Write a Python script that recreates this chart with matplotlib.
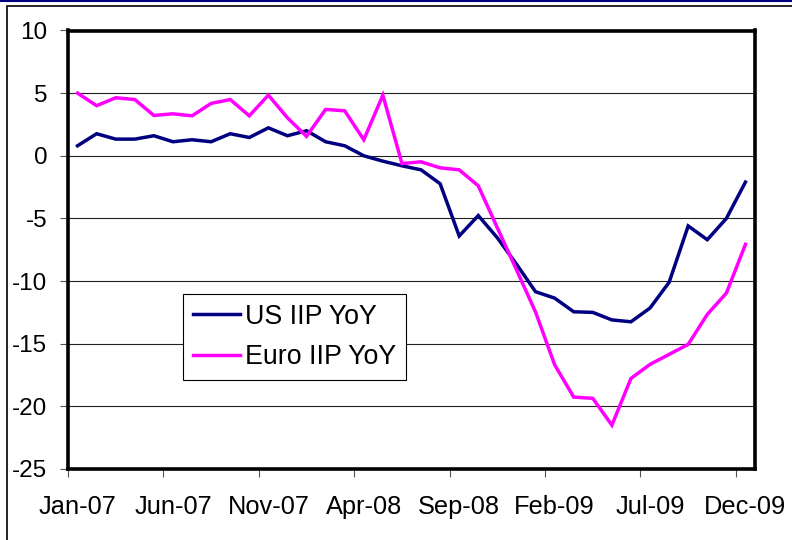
import matplotlib.pyplot as plt
from matplotlib.patches import Rectangle
from matplotlib.lines import Line2D

plt.rcParams['font.family'] = ['Liberation Sans', 'DejaVu Sans']
plt.rcParams['axes.unicode_minus'] = False

# monthly, Jan-07 .. Dec-09
months = ['Jan-07', 'Feb-07', 'Mar-07', 'Apr-07', 'May-07', 'Jun-07', 'Jul-07', 'Aug-07', 'Sep-07',
          'Oct-07', 'Nov-07', 'Dec-07', 'Jan-08', 'Feb-08', 'Mar-08', 'Apr-08', 'May-08', 'Jun-08',
          'Jul-08', 'Aug-08', 'Sep-08', 'Oct-08', 'Nov-08', 'Dec-08', 'Jan-09', 'Feb-09', 'Mar-09',
          'Apr-09', 'May-09', 'Jun-09', 'Jul-09', 'Aug-09', 'Sep-09', 'Oct-09', 'Nov-09', 'Dec-09']

us_iip = [0.8, 1.76, 1.33, 1.33, 1.6, 1.12, 1.28, 1.12, 1.76, 1.46, 2.23, 1.6,
          2.0, 1.12, 0.8, 0.0, -0.43, -0.8, -1.12, -2.23, -6.4, -4.77, -6.55, -8.65,
          -10.85, -11.36, -12.45, -12.5, -13.1, -13.25, -12.15, -10.1, -5.6, -6.7, -5.0, -2.1]

euro_iip = [5.0, 4.0, 4.63, 4.49, 3.22, 3.35, 3.19, 4.18, 4.49, 3.19, 4.84, 3.03,
            1.55, 3.7, 3.59, 1.28, 4.84, -0.62, -0.48, -0.96, -1.12, -2.4, -5.75, -9.1,
            -12.47, -16.68, -19.26, -19.36, -21.5, -17.77, -16.65, -15.85, -15.05, -12.66, -10.96, -7.07]

yticks = [-25, -20, -15, -10, -5, 0, 5, 10]

fig = plt.figure(figsize=(7.92, 5.4), dpi=100)
ax = fig.add_axes([68/792, 1 - 469/540, (755 - 68)/792, (469 - 30.5)/540])

# chart frame like the spreadsheet export
fig.patches.append(Rectangle((7/792, -0.1), 1.2, 1.1 - 5.5/540, transform=fig.transFigure,
                             fill=False, edgecolor='black', lw=1.2))
fig.lines.append(Line2D([0, 1], [1 - 0.8/540, 1 - 0.8/540], transform=fig.transFigure,
                        color='#000080', lw=1.5))

x = list(range(len(months)))
ax.plot(x, us_iip, color='#000080', lw=2.5, label='US IIP YoY', solid_joinstyle='miter')
ax.plot(x, euro_iip, color='#FF00FF', lw=2.5, label='Euro IIP YoY', solid_joinstyle='miter')

ax.set_ylim(-25, 10)
ax.set_xlim(-0.5, len(months) - 0.5)
ax.set_yticks(yticks)
for v in yticks[1:-1]:
    ax.axhline(v, color='#222222', lw=0.8, zorder=0)

# ticks between categories, labels on every 5th month
ax.set_xticks([i - 0.5 for i in range(0, len(months), 5)])
ax.set_xticklabels([])
ax.set_xticks(list(range(0, len(months), 5)), minor=True)
ax.set_xticklabels([months[i] for i in range(0, len(months), 5)], minor=True)
ax.tick_params(axis='x', which='major', length=6, width=0.8, color='#555555', direction='out')
ax.tick_params(axis='x', which='minor', length=0, pad=19, labelsize=18.3)
ax.tick_params(axis='y', length=6, width=0.8, color='#555555', pad=9, labelsize=17.5)

for s in ax.spines.values():
    s.set_linewidth(2.6)
    s.set_color('black')

leg = ax.legend(loc='upper left', bbox_to_anchor=((183 - 68)/687, 1 - (294 - 30.5)/438.5),
                fontsize=19.3, frameon=True, fancybox=False, handlelength=1.75,
                handletextpad=0.22, labelspacing=0.55, borderpad=0.36, borderaxespad=0)
leg.get_frame().set_edgecolor('black')
leg.get_frame().set_linewidth(0.8)
leg.get_frame().set_alpha(1)

fig.savefig('out.png', dpi=100)
